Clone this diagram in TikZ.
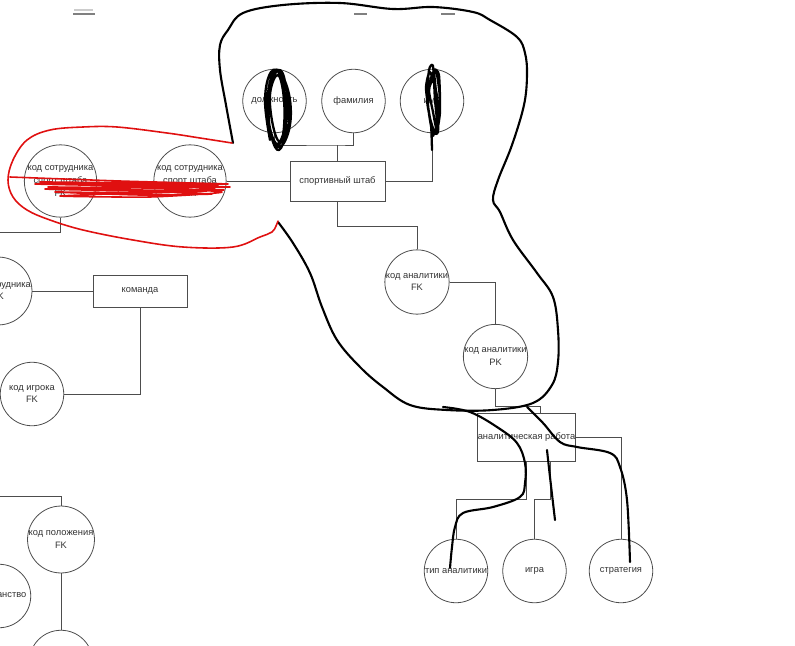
\documentclass[tikz,border=0pt]{standalone}
\usepackage{fontspec}
\setmainfont{Liberation Sans}
\usetikzlibrary{positioning}
\definecolor{edgegray}{HTML}{4D4D4D}
\definecolor{txtgray}{HTML}{333333}
\definecolor{penred}{HTML}{E01010}
\tikzstyle{attr} = [
    circle,
    minimum size=1.27cm,
    inner sep=0pt,
    align=center,
    draw=edgegray,
    line width=0.45pt,
    text=txtgray,
    font=\fontsize{5.3}{7.2}\selectfont
]
\tikzstyle{entity} = [
    rectangle,
    inner sep=0pt,
    draw=edgegray,
    line width=0.45pt,
    text=txtgray,
    font=\fontsize{5.3}{7.2}\selectfont
]
\tikzstyle{link} = [draw=edgegray, line width=0.45pt]
\tikzstyle{stub} = [draw=gray, line width=1pt]
\tikzstyle{scrib} = [black, line width=1.2pt, line cap=round, line join=round]
\tikzstyle{redscrib} = [penred, line width=0.9pt, line cap=round, line join=round]

\begin{document}
\begin{tikzpicture}[x=0.02cm, y=-0.02cm]

\clip (0,0) rectangle (795,646);
\fill [white] (0,0) rectangle (795,646);

% sport staff
\node (dolzh) [attr] at (274.5,101) {должность};
\node (fam) [attr] at (353.5,101) {фамилия};
\node (imya) [attr] at (432,101) {имя};
\node (shtab) [entity, minimum width=1.9cm, minimum height=0.8cm] at (337.5,181)
{спортивный штаб};
\node (kodShtabPK) [attr] at (190,181) {код сотрудника\\спорт штаба\\PK};
\node (kodShtabFK) [attr] at (60.5,181) {код сотрудника\\спорт штаба\\FK};

% analytics
\node (kodAnFK) [attr] at (417,282) {код аналитики\\FK};
\node (kodAnPK) [attr] at (495.5,356.5) {код аналитики\\PK};
\node (anRab) [entity, minimum width=1.9cm, minimum height=0.96cm] at (526.5,437)
{аналитическая работа};
\node (tipAn) [attr] at (456,571) {тип аналитики};
\node (igra) [attr] at (534.5,571) {игра};
\node (strat) [attr] at (621,571) {стратегия};

% team
\node (komanda) [entity, minimum width=1.88cm, minimum height=0.64cm] at (140,291)
{команда};
\node (kodSotrFK) [attr] at (-2,291) {код сотрудника\\FK};
\node (kodIgroka) [attr] at (32,394) {код игрока\\FK};

% players
\node (kodPolozh) [attr] at (61,539.5) {код положения\\FK};
\node (grazhd) [attr] at (-1,596) {гражданство};
\node (lowCirc) [attr] at (61,662) {};

\coordinate (topJoin) at (337.5,145);
\coordinate (leftEnd1) at (0,232);
\coordinate (leftEnd2) at (0,496);
\coordinate (anIn) at (540,413);
\coordinate (anOut) at (550,461);

\draw [link] (dolzh.south) |- (topJoin) -| (fam.south);
\draw [link] (topJoin) -- (shtab.north);
\draw [link] (imya.south) |- (shtab.east);
\draw [link] (shtab.west) -- (kodShtabPK.east);
\draw [link] (kodShtabFK.south) |- (leftEnd1);
\draw [link] (shtab.south) -- ++(0,25) -| (kodAnFK.north);
\draw [link] (kodAnFK.east) -| (kodAnPK.north);
\draw [link] (kodAnPK.south) -- ++(0,17) -| (anIn);
\draw [link] (anRab.south) -- ++(0,38) -| (tipAn.north);
\draw [link] (anOut) -- ++(0,38) -| (igra.north);
\draw [link] (anRab.east) -| (strat.north);
\draw [link] (kodSotrFK.east) -- (komanda.west);
\draw [link] (kodIgroka.east) -| (komanda.south);
\draw [link] (leftEnd2) -| (kodPolozh.north);
\draw [link] (kodPolozh.south) -- (lowCirc.north);

% cut marks at the top edge
\draw [stub] (73,14) -- (95,14);
\draw [stub, draw=gray!40] (74,10) -- (93,10);
\draw [stub] (354,14) -- (367,14);
\draw [stub] (441,14) -- (455,14);

% pen: outline round the staff part
\draw [scrib] plot [smooth, tension=0.6] coordinates {
  (233,143) (226,105) (220,70) (220,45) (228,30) (243,13) (283,5) (340,3)
  (393,9) (433,7) (473,12) (490,20) (517,37) (525,53) (527,75) (524,105)
  (512,145) (498,180) (493,200) (500,212) (513,240) (537,273) (553,297)
  (558,330) (558,362) (552,385) (533,403) (493,410) (447,410) (410,405)
  (383,387) (360,367) (337,340) (322,307) (310,273) (293,243) (278,222)};

% pen: scribbles over the circles
\draw [scrib, line width=1.3pt] plot [smooth, tension=0.7] coordinates {
  (270,140) (265,100) (271,72) (281,78) (286,120) (281,148) (273,142)
  (267,105) (275,70) (288,90) (290,125) (279,147) (269,122) (272,78)
  (283,74) (287,115) (277,144) (268,112) (276,72) (285,85) (289,120)
  (282,142) (274,130) (270,95) (278,75) (284,100) (283,135) (276,148)};
\draw [scrib, line width=1.3pt] plot [smooth, tension=0.4] coordinates {
  (432,150) (431,125) (427,100) (429,70) (433,66) (435,100) (438,128)
  (436,92) (434,70) (439,75) (440,112) (436,134) (430,118) (426,88)
  (430,72) (437,96) (438,132) (432,130) (428,104) (431,78) (436,70)
  (440,100) (437,130) (433,112) (429,90) (434,80) (439,118) (433,136)};

% pen: red loop and strike-through
\draw [redscrib] plot [smooth, tension=0.6] coordinates {
  (232,143) (200,138) (167,133) (117,127) (83,127) (50,130) (27,140)
  (13,160) (8,180) (13,197) (27,210) (50,220) (83,230) (133,240) (183,247)
  (233,247) (260,237) (272,232) (276,226) (278,221)};
\draw [redscrib] plot [smooth, tension=0.35] coordinates {
  (10,177) (120,181) (228,184) (140,183) (40,182) (130,185) (230,187)
  (150,188) (48,187) (140,190) (224,190) (150,193) (55,192) (140,195)
  (212,194) (130,191) (45,189) (130,187) (215,188) (160,192) (60,196)
  (150,197) (222,192) (120,186) (35,184) (110,183) (218,185)};

% pen: strokes through the analytics part
\draw [scrib] plot [smooth, tension=0.6] coordinates {
  (443,407) (470,412) (497,427) (517,443) (525,463) (525,483) (520,497)
  (493,507) (463,513) (455,527) (452,547) (450,568)};
\draw [scrib] plot [smooth, tension=0.6] coordinates {
  (527,407) (543,423) (560,442) (577,447) (610,453) (620,467) (627,500)
  (630,562)};
\draw [scrib] plot [smooth, tension=0.6] coordinates {
  (547,450) (550,477) (555,520)};

\end{tikzpicture}
\end{document}
